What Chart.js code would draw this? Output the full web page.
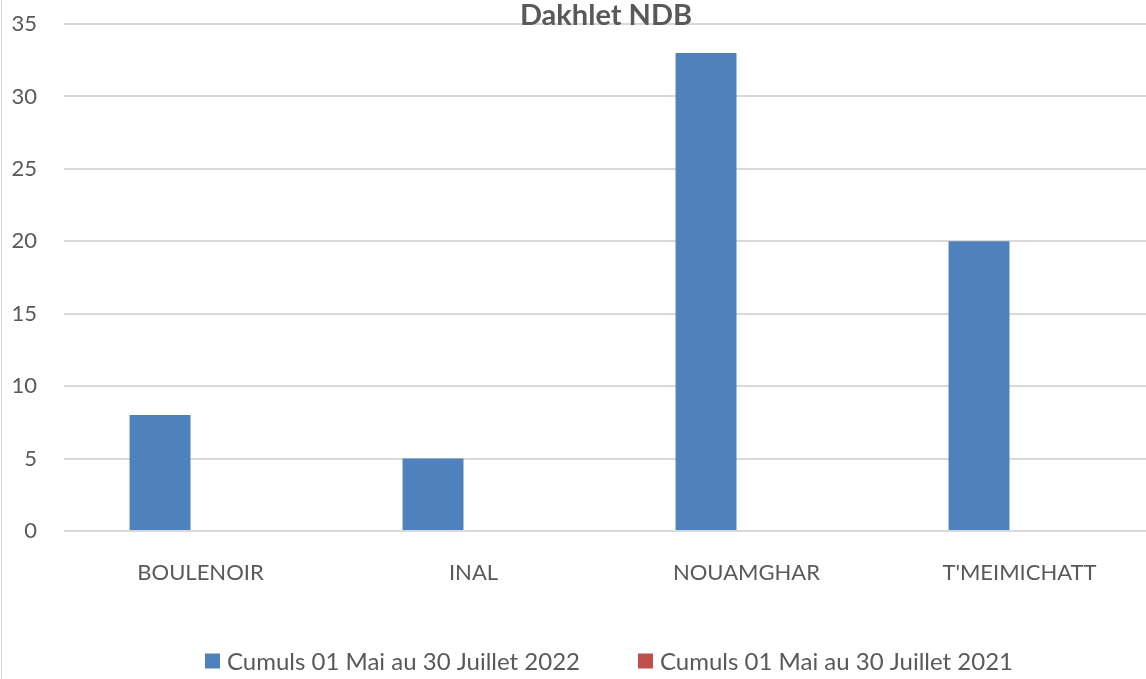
<!DOCTYPE html>
<html><head><meta charset="utf-8">
<script src="https://cdn.jsdelivr.net/npm/chart.js@4.4.0/dist/chart.umd.min.js"></script>
<style>
html,body{margin:0;padding:0;background:#fff;overflow:hidden;}
#wrap{position:relative;width:1146px;height:679px;overflow:hidden;background:#fff;}
#edge{position:absolute;left:1px;top:0;width:1px;height:679px;background:#d9d9d9;}
canvas{position:absolute;left:0;top:0;}
</style></head><body>
<div id="wrap"><canvas id="c" width="1212" height="679"></canvas><div id="edge"></div></div>
<script>
const chartTitle = 'Dakhlet NDB';
const categories = ['BOULENOIR', 'INAL', 'NOUAMGHAR', "T'MEIMICHATT"];
const series2022 = [8, 5, 33, 20];
const series2021 = [0, 0, 0, 0];
const seriesNames = ['Cumuls 01 Mai au 30 Juillet 2022', 'Cumuls 01 Mai au 30 Juillet 2021'];
const yMin = 0, yMax = 35, yStep = 5;

const TXT = '#595959';
const FONT = 'Lato, "Open Sans", sans-serif';

const titlePlugin = {
  id: 'overlayTitle',
  afterDraw(chart) {
    const ctx = chart.ctx;
    ctx.save();
    ctx.font = 'bold 29px ' + FONT;
    ctx.fillStyle = TXT;
    ctx.textAlign = 'center';
    ctx.textBaseline = 'middle';
    ctx.fillText(chartTitle, 606, 16);
    ctx.restore();
  }
};

const legendPlugin = {
  id: 'bottomLegend',
  afterDraw(chart) {
    const ctx = chart.ctx;
    const ds = chart.data.datasets;
    ctx.save();
    ctx.font = '24px ' + FONT;
    const box = 15, gapBoxText = 7, gapItems = 58;
    const widths = ds.map(d => ctx.measureText(d.label).width);
    const total = widths.reduce((a, w) => a + box + gapBoxText + w, 0) + gapItems * (ds.length - 1);
    let x = 609 - total / 2;
    const cy = 662;
    ds.forEach((d, i) => {
      ctx.fillStyle = d.backgroundColor;
      ctx.fillRect(x, cy - box / 2 - 1, box, box);
      x += box + gapBoxText;
      ctx.fillStyle = TXT;
      ctx.textAlign = 'left';
      ctx.textBaseline = 'middle';
      ctx.fillText(d.label, x, cy);
      x += widths[i] + gapItems;
    });
    ctx.restore();
  }
};

new Chart(document.getElementById('c'), {
  type: 'bar',
  data: {
    labels: categories,
    datasets: [
      { label: seriesNames[0], data: series2022, backgroundColor: '#4f81bd', borderWidth: 0 },
      { label: seriesNames[1], data: series2021, backgroundColor: '#c0504d', borderWidth: 0 }
    ]
  },
  options: {
    responsive: false,
    animation: false,
    devicePixelRatio: 1,
    categoryPercentage: 0.593,
    barPercentage: 0.753,
    layout: { padding: { left: 0, right: 56, top: 24, bottom: 54 } },
    plugins: {
      title: { display: false },
      tooltip: { enabled: false },
      legend: { display: false }
    },
    scales: {
      x: {
        grid: { display: false, drawTicks: false },
        border: { display: false },
        ticks: { color: TXT, font: { family: FONT, size: 22 }, padding: 29, maxRotation: 0, autoSkip: false },
        afterFit(s) { s.height = 94; }
      },
      y: {
        min: yMin, max: yMax,
        grid: { color: '#d9d9d9', lineWidth: 2, drawTicks: false },
        border: { display: false },
        ticks: { stepSize: yStep, color: TXT, font: { family: FONT, size: 22 }, padding: 27 },
        afterFit(s) { s.width = 64; s.paddingTop = 0; s.paddingBottom = 0; }
      }
    }
  },
  plugins: [titlePlugin, legendPlugin]
});
</script>
</body></html>
